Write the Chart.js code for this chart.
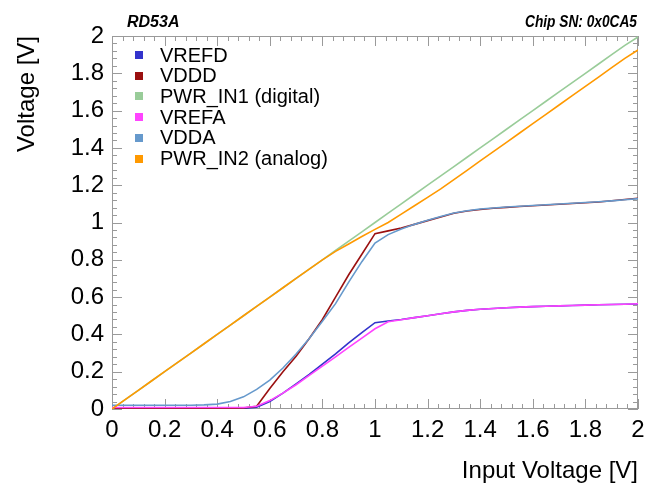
<!DOCTYPE html>
<html>
<head>
<meta charset="utf-8">
<title>RD53A power-up scan</title>
<script src="https://cdn.jsdelivr.net/npm/chart.js@4"></script>
<style>
  body { margin: 0; background: #fff; }
  #wrap { width: 646px; height: 486px; }
</style>
</head>
<body>
<div id="wrap"><canvas id="chart" width="646" height="486"></canvas></div>
<script>
// input voltage scan points [V]
const volts = [0, 0.05, 0.1, 0.15, 0.2, 0.25, 0.3, 0.35, 0.4, 0.45, 0.5,
  0.55, 0.6, 0.65, 0.7, 0.75, 0.8, 0.85, 0.9, 0.95, 1.0,
  1.05, 1.1, 1.15, 1.2, 1.25, 1.3, 1.35, 1.4, 1.45, 1.5,
  1.55, 1.6, 1.65, 1.7, 1.75, 1.8, 1.85, 1.9, 1.95, 2.0];

// measured voltages [V]
const vrefd = [0.003, 0.003, 0.003, 0.003, 0.003, 0.003, 0.003, 0.003, 0.003, 0.003, 0.003,
  0.01, 0.04, 0.085, 0.135, 0.185, 0.24, 0.295, 0.355, 0.41, 0.463,
  0.472, 0.48, 0.49, 0.5, 0.511, 0.521, 0.529, 0.535, 0.539, 0.543,
  0.546, 0.549, 0.551, 0.553, 0.555, 0.557, 0.559, 0.56, 0.562, 0.563];
const vddd = [0.002, 0.002, 0.002, 0.002, 0.002, 0.003, 0.003, 0.003, 0.003, 0.004, 0.005,
  0.015, 0.11, 0.2, 0.283, 0.378, 0.48, 0.6, 0.72, 0.83, 0.94,
  0.955, 0.97, 0.99, 1.01, 1.03, 1.05, 1.062, 1.07, 1.076, 1.081,
  1.086, 1.09, 1.094, 1.098, 1.102, 1.106, 1.11, 1.117, 1.123, 1.13];
const pwrIn1 = [0, 0.05, 0.1, 0.15, 0.2, 0.25, 0.3, 0.35, 0.4, 0.45, 0.5,
  0.55, 0.6, 0.65, 0.7, 0.75, 0.8, 0.85, 0.9, 0.95, 1.0,
  1.05, 1.1, 1.15, 1.2, 1.25, 1.3, 1.35, 1.4, 1.45, 1.5,
  1.55, 1.6, 1.65, 1.7, 1.75, 1.8, 1.85, 1.9, 1.95, 1.995];
const vrefa = [0.008, 0.008, 0.008, 0.008, 0.008, 0.008, 0.008, 0.008, 0.008, 0.008, 0.008,
  0.015, 0.045, 0.085, 0.13, 0.18, 0.23, 0.28, 0.33, 0.38, 0.43,
  0.468, 0.479, 0.49, 0.5, 0.511, 0.521, 0.529, 0.535, 0.539, 0.543,
  0.546, 0.549, 0.551, 0.553, 0.555, 0.557, 0.559, 0.56, 0.562, 0.564];
const vdda = [0.02, 0.02, 0.02, 0.02, 0.02, 0.02, 0.02, 0.022, 0.026, 0.04, 0.065,
  0.105, 0.155, 0.22, 0.295, 0.378, 0.47, 0.565, 0.68, 0.79, 0.89,
  0.935, 0.965, 0.99, 1.012, 1.032, 1.051, 1.063, 1.072, 1.078, 1.083,
  1.087, 1.091, 1.095, 1.099, 1.103, 1.107, 1.111, 1.116, 1.122, 1.128];
const pwrIn2 = [0, 0.05, 0.1, 0.15, 0.2, 0.25, 0.3, 0.35, 0.4, 0.45, 0.5,
  0.55, 0.6, 0.65, 0.7, 0.75, 0.8, 0.845, 0.885, 0.925, 0.963,
  1.0, 1.045, 1.09, 1.135, 1.18, 1.23, 1.28, 1.33, 1.38, 1.43,
  1.48, 1.53, 1.58, 1.63, 1.68, 1.73, 1.78, 1.83, 1.88, 1.925];

const seriesNames = ['VREFD', 'VDDD', 'PWR_IN1 (digital)', 'VREFA', 'VDDA', 'PWR_IN2 (analog)'];
const seriesValues = [vrefd, vddd, pwrIn1, vrefa, vdda, pwrIn2];
const seriesColors = ['#3333cc', '#9a1010', '#99cc99', '#ff44ff', '#6699cc', '#ff9900'];

const leftTitle = 'RD53A';
const rightTitle = 'Chip SN: 0x0CA5';

const FONT = '"Liberation Sans", Arial, Helvetica, sans-serif';

// ROOT style frame with ticks on all four sides, pointing inwards
const frameTicks = {
  id: 'frameTicks',
  beforeDatasetsDraw(chart) {
    const { ctx, chartArea: a, scales: { x, y } } = chart;
    ctx.save();
    ctx.strokeStyle = '#9a9a9a';
    ctx.lineWidth = 1;
    ctx.strokeRect(a.left + 0.5, a.top + 0.5, a.right - a.left - 1, a.bottom - a.top - 1);
    ctx.beginPath();
    for (let i = 0; i <= 50; i++) {
      const v = i * 0.04;
      const len = i % 5 === 0 ? 10 : 5;
      const px = Math.round(x.getPixelForValue(v)) + 0.5;
      ctx.moveTo(px, a.bottom); ctx.lineTo(px, a.bottom - len);
      ctx.moveTo(px, a.top); ctx.lineTo(px, a.top + len);
      const py = Math.round(y.getPixelForValue(v)) + 0.5;
      ctx.moveTo(a.left, py); ctx.lineTo(a.left + len, py);
      ctx.moveTo(a.right, py); ctx.lineTo(a.right - len, py);
    }
    ctx.stroke();
    ctx.restore();
  }
};

// legend inside the frame + the two header texts
const headerLegend = {
  id: 'headerLegend',
  afterDraw(chart) {
    const { ctx } = chart;
    ctx.save();
    ctx.fillStyle = '#000';
    ctx.font = 'italic bold 16px ' + FONT;
    ctx.textBaseline = 'alphabetic';
    ctx.textAlign = 'left';
    ctx.fillText(leftTitle, 127, 27);
    // right header is a bit narrower in the original
    const w = ctx.measureText(rightTitle).width;
    const sx = Math.min(1, 112 / w);
    ctx.save();
    ctx.translate(637, 27);
    ctx.scale(sx, 1);
    ctx.textAlign = 'right';
    ctx.fillText(rightTitle, 0, 0);
    ctx.restore();

    ctx.font = '20px ' + FONT;
    ctx.textAlign = 'left';
    ctx.textBaseline = 'middle';
    chart.data.datasets.forEach(function (ds, i) {
      const cy = 55 + i * 20.7;
      ctx.fillStyle = ds.borderColor;
      ctx.fillRect(135, Math.round(cy - 4), 8, 8);
      ctx.fillStyle = '#000';
      ctx.fillText(ds.label, 160, cy + 1);
    });
    ctx.restore();
  }
};

const datasets = seriesNames.map(function (name, i) {
  return {
    label: name,
    data: volts.map(function (v, k) { return { x: v, y: seriesValues[i][k] }; }),
    borderColor: seriesColors[i],
    backgroundColor: seriesColors[i],
    borderWidth: 1.6,
    pointRadius: 0,
    tension: 0,
    fill: false,
    order: seriesNames.length - i   // later series drawn on top
  };
});

// "0", "0.2", ... "1", "1.2" like the original axis labels
function tickLabel(value) {
  return String(Number(value.toFixed(2)));
}

new Chart(document.getElementById('chart'), {
  type: 'line',
  data: { datasets: datasets },
  options: {
    responsive: false,
    animation: false,
    devicePixelRatio: 1,
    layout: { padding: { top: 36, right: 8, left: 0, bottom: 0 } },
    plugins: {
      legend: { display: false },
      tooltip: { enabled: false }
    },
    scales: {
      x: {
        type: 'linear',
        min: 0, max: 2,
        grid: { display: false, drawTicks: false },
        border: { display: false },
        ticks: { stepSize: 0.2, padding: 7, color: '#000', font: { family: FONT, size: 24 },
          maxRotation: 0, callback: tickLabel },
        title: { display: true, text: 'Input Voltage [V]', align: 'end', color: '#000',
          font: { family: FONT, size: 24 }, padding: { top: 0, bottom: 0 } },
        afterFit: function (scale) {
          scale.height = 77;
          scale.paddingLeft = 0;
          scale.paddingRight = 0;
        }
      },
      y: {
        type: 'linear',
        min: 0, max: 2,
        grid: { display: false, drawTicks: false },
        border: { display: false },
        ticks: { stepSize: 0.2, padding: 8, color: '#000', font: { family: FONT, size: 24 },
          callback: tickLabel },
        title: { display: true, text: 'Voltage [V]', align: 'end', color: '#000',
          font: { family: FONT, size: 24 }, padding: { top: 13, bottom: 0 } },
        afterFit: function (scale) {
          scale.width = 112;
          scale.paddingTop = 0;
          scale.paddingBottom = 0;
        }
      }
    }
  },
  plugins: [frameTicks, headerLegend]
});
</script>
</body>
</html>
